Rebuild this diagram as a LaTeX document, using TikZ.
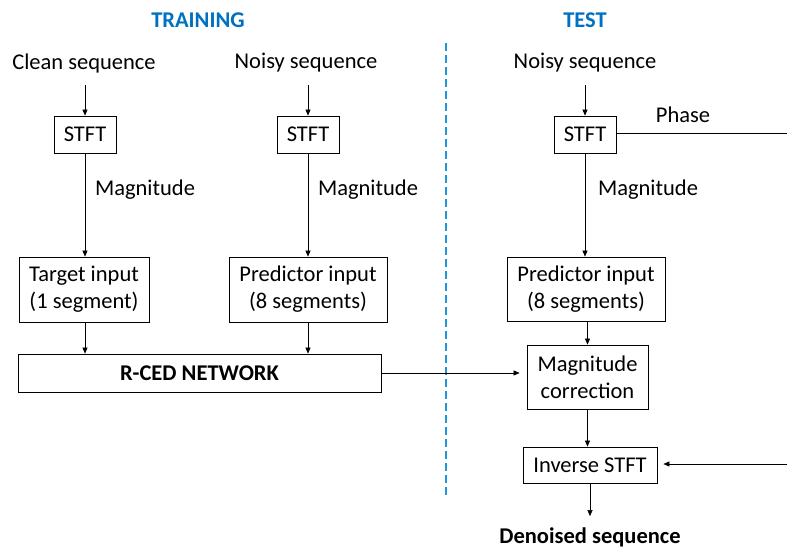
\documentclass[tikz,border=0pt]{standalone}
\usepackage{fontspec}
\setmainfont{Carlito}
\usetikzlibrary{arrows.meta}
\definecolor{titleblue}{RGB}{0,112,192}
\definecolor{splitblue}{RGB}{30,150,220}
\begin{document}
\begin{tikzpicture}[x=1pt,y=-1pt,
 every node/.style={font=\fontsize{22.5}{27}\selectfont},
 blk/.style={draw,line width=0.8pt,inner sep=0pt,align=center},
 lbl/.style={inner sep=0pt},
 ttl/.style={inner sep=0pt,text=titleblue,font=\fontsize{22.5}{27}\selectfont\bfseries},
 arr/.style={line width=0.6pt,-{Triangle[length=6pt,width=5pt]}}]
 \useasboundingbox (0,0) rectangle (787,549);
 \node[ttl] (training) at (198,20) {TRAINING};
 \node[ttl] (test) at (585,20) {TEST};
 \draw[splitblue,line width=1.8pt,dash pattern=on 8pt off 4pt] (446,43) -- (446,495);
 \node[lbl] (clean) at (84,63) {Clean sequence};
 \node[lbl] (noisyA) at (306,63) {Noisy sequence};
 \node[lbl] (noisyB) at (585,63) {Noisy sequence};
 \node[blk,minimum width=62pt,minimum height=37pt] (stftA) at (85,134.5) {STFT};
 \node[blk,minimum width=62pt,minimum height=37pt] (stftB) at (308,134.5) {STFT};
 \node[blk,minimum width=62pt,minimum height=37pt] (stftC) at (585,134.5) {STFT};
 \node[lbl] (magA) at (145,190) {Magnitude};
 \node[lbl] (magB) at (368,190) {Magnitude};
 \node[lbl] (magC) at (648,190) {Magnitude};
 \node[lbl] (phase) at (683,115) {Phase};
 \node[blk,minimum width=130pt,minimum height=65pt] (target) at (84,289.5) {Target input\\(1 segment)};
 \node[blk,minimum width=158pt,minimum height=65pt] (predA) at (308,289.5) {Predictor input\\(8 segments)};
 \node[blk,minimum width=158pt,minimum height=64pt] (predB) at (586,289) {Predictor input\\(8 segments)};
 \node[blk,minimum width=363pt,minimum height=38pt,font=\fontsize{22.5}{27}\selectfont\bfseries] (rced) at (199.5,373) {R-CED NETWORK};
 \node[blk,minimum width=121pt,minimum height=64pt] (magcorr) at (587.5,377) {Magnitude\\correction};
 \node[blk,minimum width=134pt,minimum height=36pt] (istft) at (590,465) {Inverse STFT};
 \node[lbl,font=\fontsize{22.5}{27}\selectfont\bfseries] (denoised) at (590,537) {Denoised sequence};
 \coordinate (phaseEnd) at (787,133);
 \coordinate (invIn) at (787,464);
 \draw[arr,shorten <=12pt] (clean.south -| stftA) -- (stftA.north);
 \draw[arr,shorten <=12pt] (noisyA.south -| stftB) -- (stftB.north);
 \draw[arr,shorten <=12pt] (noisyB.south) -- (stftC.north);
 \draw[arr] (stftA.south) -- (stftA.south |- target.north);
 \draw[arr] (stftB.south) -- (stftB.south |- predA.north);
 \draw[arr] (stftC.south) -- (stftC.south |- predB.north);
 \draw[line width=0.6pt] (stftC.east |- phaseEnd) -- (phaseEnd);
 \draw[arr] (stftA.south |- target.south) -- (stftA.south |- rced.north);
 \draw[arr] (predA.south) -- (predA.south |- rced.north);
 \draw[arr] (predB.south -| magcorr) -- (magcorr.north);
 \draw[arr,shorten >=7pt] (rced.east) -- (rced.east -| magcorr.west);
 \draw[arr] (magcorr.south) -- (magcorr.south |- istft.north);
 \draw[arr,shorten >=6pt] (invIn) -- (invIn -| istft.east);
 \draw[arr,shorten >=11pt] (istft.south) -- (denoised.north);
\end{tikzpicture}
\end{document}
